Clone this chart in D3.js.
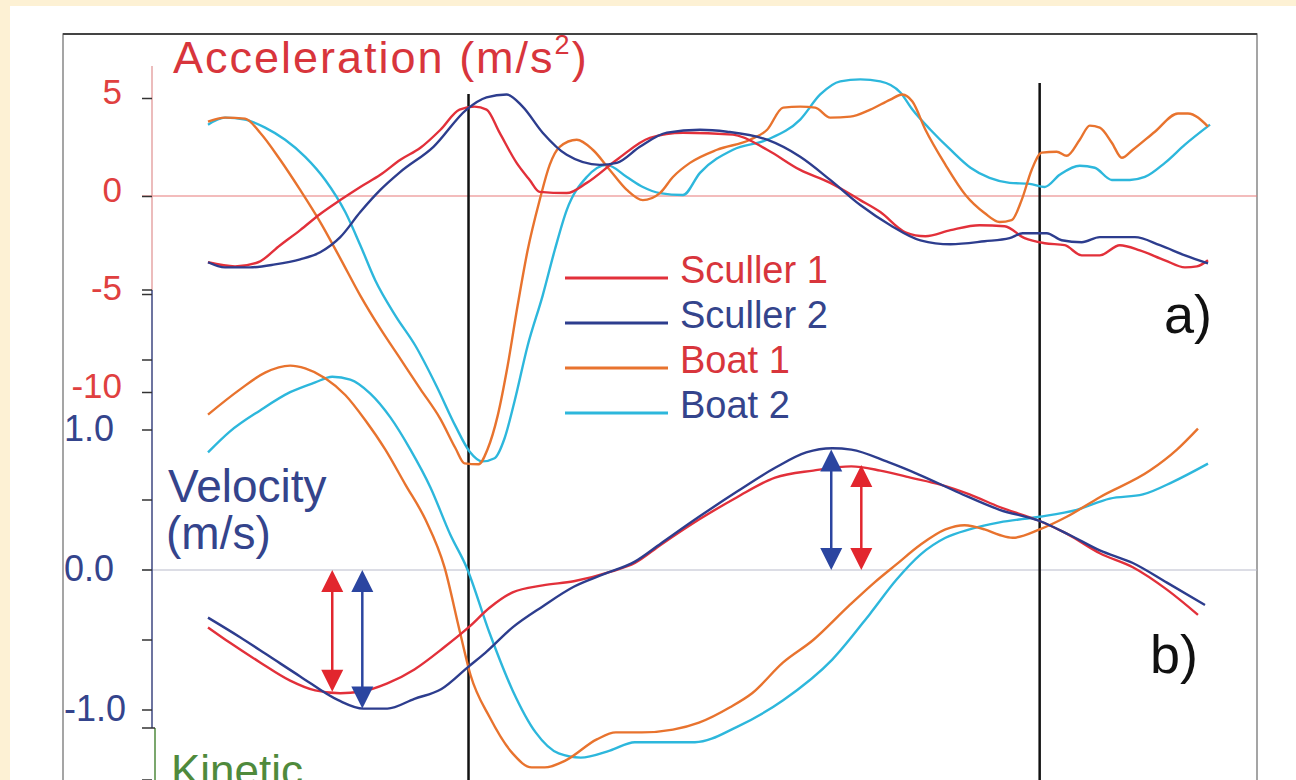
<!DOCTYPE html>
<html lang="en">
<head>
    <meta charset="UTF-8">
    <title>Sculler and boat acceleration / velocity</title>
    <script src="https://d3js.org/d3.v7.min.js"></script>
    <style>
        body { margin: 0; background: #fdf1d4; }
        text { font-family: "Liberation Sans", Arial, Helvetica, sans-serif; }
    </style>
</head>
<body>
    <script>
        const width = 1296;
        const height = 780;

        // time axis: % of the stroke cycle shown, 0..100
        // acceleration in m/s^2 : [t, a]
        const sculler1Acc = [[0,-3.38],[2.7,-3.59],[5,-3.38],[7.2,-2.51],[9.2,-1.74],[11.2,-0.92],[13.2,-0.21],[15.2,0.46],[17.2,1.08],[19.2,1.85],[21.2,2.46],[23.2,3.38],[25.1,4.41],[26.6,4.56],[27.8,4.41],[29.1,3.23],[30.8,1.69],[32.1,0.82],[33.1,0.21],[35.8,0.15],[37.8,0.67],[40.8,1.85],[44.1,2.97],[47.4,3.23],[52.4,3.13],[55.8,2.36],[59.1,1.33],[62.1,0.67],[65.1,-0.21],[67.1,-0.82],[69.6,-1.85],[71.6,-2.05],[74.1,-1.74],[77,-1.49],[79.5,-1.54],[81.5,-2.15],[83.5,-2.41],[85.5,-2.51],[87.2,-3.03],[89,-3.03],[91,-2.51],[93,-2.77],[95.5,-3.28],[97.5,-3.64],[98.7,-3.59],[99.8,-3.28]];
        const sculler2Acc = [[0,-3.38],[1.7,-3.64],[4.2,-3.64],[6.7,-3.49],[9.2,-3.23],[11.2,-2.87],[13.2,-2.1],[15.2,-0.82],[17.2,0.31],[19.2,1.23],[22.5,2.51],[25.8,4.41],[27.8,5.03],[29.8,5.18],[31.4,4.56],[33.4,3.23],[35.8,2.1],[39.1,1.59],[40.8,1.69],[43.1,2.51],[45.8,3.23],[49.1,3.38],[51.8,3.28],[55.8,2.87],[59.1,2.0],[62.1,0.82],[65.1,-0.46],[68.1,-1.49],[71.1,-2.26],[74.1,-2.46],[77.5,-2.31],[80,-2.15],[81.3,-1.9],[83.7,-1.9],[85.2,-2.26],[87.2,-2.36],[89,-2.1],[92.5,-2.1],[95,-2.51],[97.5,-3.03],[99.8,-3.44]];
        const boat1Acc = [[0,3.79],[1.7,4.0],[3.7,3.95],[5.2,3.23],[7.2,1.85],[9.2,0.31],[11.2,-1.33],[13.2,-3.18],[15.2,-5.08],[17.2,-6.77],[19.2,-8.31],[21.2,-9.85],[23.2,-11.38],[24.7,-12.87],[25.6,-13.64],[27,-13.69],[27.9,-12.92],[28.9,-11.23],[29.9,-8.67],[30.9,-5.59],[31.9,-2.77],[33.1,-0.21],[34.1,1.59],[35.1,2.51],[36.8,2.87],[38.4,2.36],[40.1,1.33],[41.8,0.31],[43.4,-0.21],[45.1,0.15],[46.4,0.97],[48.1,1.69],[50.8,2.36],[54.1,2.87],[55.8,3.38],[57.4,4.51],[59.1,4.56],[60.6,4.51],[62.1,4.0],[64.1,4.05],[66.1,4.41],[68.1,4.92],[69.3,5.18],[70.3,4.82],[71.6,3.38],[73.6,1.59],[75.6,0.05],[77.5,-0.87],[79,-1.33],[80.2,-1.23],[81.2,-0.21],[82.2,1.33],[83.2,2.21],[84.7,2.26],[85.7,2.05],[87,2.87],[88,3.59],[89,3.49],[90.2,2.72],[91.2,1.95],[92.3,2.36],[94.5,3.28],[96.8,4.21],[97.8,4.21],[99.8,3.54]];
        const boat2Acc = [[0,3.64],[1.7,4.0],[3.7,3.9],[5.7,3.49],[7.7,2.87],[9.7,2.0],[11.7,0.82],[13.7,-0.82],[15.2,-2.51],[16.7,-4.31],[18.7,-6.1],[20.7,-7.64],[22.8,-9.69],[24.7,-11.74],[26.1,-13.03],[27.4,-13.54],[28.6,-13.38],[29.6,-12.36],[30.6,-10.46],[31.9,-7.64],[33.4,-5.08],[34.6,-2.77],[35.8,-0.72],[37.8,0.97],[39.8,1.59],[41.8,0.97],[43.4,0.46],[45.1,0.15],[47.4,0.05],[49.1,1.18],[52.4,2.36],[55.8,2.87],[59.1,3.9],[61.1,5.18],[63.1,5.85],[65.1,5.95],[67.1,5.85],[69.1,5.28],[70.3,4.41],[72.1,3.38],[74.1,2.36],[76.1,1.44],[78,0.92],[80,0.67],[82,0.62],[83.5,0.46],[85,1.08],[87,1.54],[88.5,1.44],[90.2,0.82],[92,0.82],[93.5,0.97],[95.5,1.69],[97.5,2.62],[100,3.64]];

        // velocity in m/s : [t, v]
        const sculler1Vel = [[0,-0.41],[2.2,-0.52],[5.2,-0.66],[8.2,-0.79],[10.7,-0.86],[13.2,-0.88],[15.2,-0.87],[17.9,-0.81],[20.6,-0.71],[23.6,-0.55],[26,-0.41],[28.1,-0.27],[30.4,-0.16],[33.4,-0.11],[36.5,-0.08],[40.3,-0.01],[42.6,0.05],[45.2,0.18],[49,0.36],[52.8,0.52],[56.6,0.66],[60.4,0.71],[64.2,0.74],[67.1,0.71],[70.1,0.66],[73.1,0.61],[76,0.54],[79,0.45],[83,0.35],[85.7,0.26],[89,0.12],[92.3,0.02],[95.7,-0.14],[98.8,-0.32]];
        const sculler2Vel = [[0,-0.34],[3.2,-0.48],[6.2,-0.62],[9.2,-0.76],[13,-0.93],[15.5,-0.99],[17.9,-0.99],[20.6,-0.92],[23.3,-0.85],[26,-0.69],[27.7,-0.59],[30.4,-0.41],[33.4,-0.26],[36.5,-0.12],[39.5,-0.03],[42.6,0.06],[45.2,0.19],[49,0.38],[52.8,0.56],[56.6,0.73],[59.7,0.84],[62.3,0.87],[64.2,0.86],[67.9,0.77],[71,0.68],[75,0.55],[79,0.43],[83,0.35],[86,0.25],[89,0.14],[92.3,0.05],[95.7,-0.09],[99.5,-0.25]];
        const boat1Vel = [[0,1.11],[3.2,1.29],[5.7,1.41],[8.2,1.46],[9.7,1.44],[11.7,1.37],[13.7,1.25],[15.7,1.07],[17.7,0.86],[19.7,0.61],[21.7,0.36],[23.6,0.02],[25.1,-0.43],[26.2,-0.75],[28.1,-1.05],[30.4,-1.31],[32.3,-1.41],[33.6,-1.41],[35.7,-1.36],[38.8,-1.21],[40.7,-1.16],[43.3,-1.16],[46.4,-1.14],[49,-1.09],[52.1,-0.98],[54.3,-0.88],[57.4,-0.66],[60.4,-0.5],[63.9,-0.26],[66.5,-0.09],[68.7,0.04],[71.1,0.18],[73.6,0.29],[75.5,0.32],[77.5,0.29],[79,0.25],[80.3,0.23],[83,0.29],[85.7,0.38],[89,0.52],[94,0.71],[96.7,0.86],[98.8,1.01]];
        const boat2Vel = [[0,0.84],[2.2,0.99],[5.2,1.14],[8.2,1.27],[10.7,1.34],[12.4,1.38],[14.2,1.36],[16.2,1.26],[18.2,1.09],[20.2,0.86],[22.2,0.59],[24.2,0.25],[25.8,0.02],[28.1,-0.45],[30.4,-0.86],[32.7,-1.16],[35,-1.31],[37.2,-1.34],[40.1,-1.29],[42.6,-1.23],[48.6,-1.23],[52.8,-1.12],[57.4,-0.93],[62.3,-0.64],[66.1,-0.31],[68.7,-0.07],[71.1,0.11],[73.6,0.23],[76,0.29],[79,0.34],[83,0.38],[86.7,0.43],[90,0.51],[93.3,0.54],[96.3,0.63],[99.8,0.76]];

        const seriesNames = ["Sculler 1", "Sculler 2", "Boat 1", "Boat 2"];
        const seriesColors = ["#e2303a", "#2d3d8e", "#e8732e", "#2db7dc"];
        const legendTextColors = ["#d8353c", "#34448c", "#d8353c", "#34448c"];

        const accTicks = [5, 0, -5, -10];
        const velLabelTicks = [1.0, 0.0, -1.0];
        const velMinorTicks = [2.0, 1.5, 0.5, -0.5, -1.5];

        // phase markers (catch / finish) and the sculler speed-range arrows
        const phaseLines = [26, 83];
        const arrows = [
            {t: 12.4, from: 0, to: -0.87, color: "#e2262e"},
            {t: 15.4, from: 0, to: -0.99, color: "#2b45a0"},
            {t: 62.2, from: 0, to: 0.86, color: "#2b45a0"},
            {t: 65.2, from: 0, to: 0.75, color: "#e2262e"}
        ];

        const x = d3.scaleLinear().domain([0, 100]).range([208, 1210]);
        const yAcc = d3.scaleLinear().domain([-10, 5]).range([392, 98]);
        const yVel = d3.scaleLinear().domain([-1, 1]).range([710, 430]);

        const svg = d3.select("body").append("svg")
            .attr("width", width)
            .attr("height", height);

        // page / panel background
        svg.append("rect").attr("width", width).attr("height", height).attr("fill", "#fdf1d4");
        svg.append("rect").attr("x", 10).attr("y", 6)
            .attr("width", width - 10).attr("height", height - 6).attr("fill", "#fff");

        // frame
        svg.append("path")
            .attr("d", "M63,780V34H1257V780")
            .attr("fill", "none").attr("stroke", "#888").attr("stroke-width", 1.5);
        svg.append("line").attr("x1", 63).attr("x2", 1257).attr("y1", 34).attr("y2", 34)
            .attr("stroke", "#444").attr("stroke-width", 2);

        // zero lines
        svg.append("line")
            .attr("x1", 142).attr("x2", 1257)
            .attr("y1", yAcc(0)).attr("y2", yAcc(0))
            .attr("stroke", "#e77a7a").attr("stroke-width", 1.2);
        svg.append("line")
            .attr("x1", 142).attr("x2", 1257)
            .attr("y1", yVel(0)).attr("y2", yVel(0))
            .attr("stroke", "#b9bccb").attr("stroke-width", 1.2);

        // axis spine: acceleration part, velocity part, kinetic part
        const axisX = 152;
        svg.append("line").attr("x1", axisX).attr("x2", axisX).attr("y1", 66).attr("y2", yVel(2))
            .attr("stroke", "#e6a6a6").attr("stroke-width", 1.5);
        svg.append("line").attr("x1", axisX).attr("x2", axisX).attr("y1", yVel(2)).attr("y2", 728)
            .attr("stroke", "#3c4680").attr("stroke-width", 1.5);
        svg.append("line").attr("x1", 155).attr("x2", 155).attr("y1", 728).attr("y2", 780)
            .attr("stroke", "#4f8a3c").attr("stroke-width", 1.5);
        svg.append("line").attr("x1", 142).attr("x2", 155).attr("y1", 728).attr("y2", 728)
            .attr("stroke", "#333").attr("stroke-width", 1.5);

        // acceleration ticks (plain hyphen minus, as in the figure)
        const accAxis = svg.append("g")
            .attr("transform", `translate(${axisX},0)`)
            .call(d3.axisLeft(yAcc).tickValues(accTicks).tickSize(10).tickPadding(20).tickFormat(d => String(d)));
        accAxis.select(".domain").remove();
        accAxis.selectAll("line").attr("stroke", "#333").attr("stroke-width", 1.5);
        accAxis.selectAll("text")
            .attr("fill", "#e0403f")
            .attr("font-size", 35)
            .attr("dy", "0.15em")
            .style("font-family", "'Liberation Sans', Arial, sans-serif");

        // velocity ticks
        svg.append("g").selectAll("line")
            .data(velLabelTicks.concat(velMinorTicks))
            .join("line")
            .attr("x1", 142).attr("x2", axisX)
            .attr("y1", d => yVel(d)).attr("y2", d => yVel(d))
            .attr("stroke", "#333").attr("stroke-width", 1.5);
        svg.append("g").selectAll("text")
            .data(velLabelTicks)
            .join("text")
            .attr("x", 64)
            .attr("y", d => yVel(d) + 11)
            .attr("fill", "#34448c")
            .attr("font-size", 36)
            .text(d => d.toFixed(1).replace("\u2212", "-"));

        // axis titles
        const title = svg.append("text")
            .attr("x", 173).attr("y", 73)
            .attr("fill", "#d8353c")
            .attr("font-size", 45)
            .attr("letter-spacing", 2);
        title.append("tspan").text("Acceleration (m/s");
        title.append("tspan").attr("font-size", 27).attr("dy", -19).text("2");
        title.append("tspan").attr("dy", 19).text(")");

        svg.append("text").attr("x", 168).attr("y", 502)
            .attr("fill", "#34448c").attr("font-size", 46).text("Velocity");
        svg.append("text").attr("x", 166).attr("y", 549)
            .attr("fill", "#34448c").attr("font-size", 46).text("(m/s)");
        svg.append("text").attr("x", 171).attr("y", 786)
            .attr("fill", "#4f8a3c").attr("font-size", 44).text("Kinetic");

        // phase lines
        svg.append("g").selectAll("line")
            .data(phaseLines)
            .join("line")
            .attr("x1", d => x(d)).attr("x2", d => x(d))
            .attr("y1", (d, i) => i === 0 ? 94 : 83)
            .attr("y2", height)
            .attr("stroke", "#111").attr("stroke-width", 2.5);

        // curves
        const accLine = d3.line()
            .x(d => x(d[0]))
            .y(d => yAcc(d[1]))
            .curve(d3.curveMonotoneX);
        const velLine = d3.line()
            .x(d => x(d[0]))
            .y(d => yVel(d[1]))
            .curve(d3.curveMonotoneX);

        const accSeries = [sculler1Acc, sculler2Acc, boat1Acc, boat2Acc];
        const velSeries = [sculler1Vel, sculler2Vel, boat1Vel, boat2Vel];
        const drawOrder = [3, 2, 0, 1];

        const curves = svg.append("g").attr("fill", "none").attr("stroke-width", 2.4);
        drawOrder.forEach(i => {
            curves.append("path").attr("d", accLine(accSeries[i])).attr("stroke", seriesColors[i]);
            curves.append("path").attr("d", velLine(velSeries[i])).attr("stroke", seriesColors[i]);
        });

        // double-headed arrows
        const head = 11, headLen = 22;
        const arrowG = svg.append("g");
        arrows.forEach(a => {
            const ax = x(a.t);
            const y0 = yVel(a.from), y1 = yVel(a.to);
            const dir = y1 > y0 ? 1 : -1;
            arrowG.append("line")
                .attr("x1", ax).attr("x2", ax)
                .attr("y1", y0 + dir * headLen * 0.8).attr("y2", y1 - dir * headLen * 0.8)
                .attr("stroke", a.color).attr("stroke-width", 2.5);
            arrowG.append("path")
                .attr("d", `M${ax},${y0}L${ax - head},${y0 + dir * headLen}L${ax + head},${y0 + dir * headLen}Z`)
                .attr("fill", a.color);
            arrowG.append("path")
                .attr("d", `M${ax},${y1}L${ax - head},${y1 - dir * headLen}L${ax + head},${y1 - dir * headLen}Z`)
                .attr("fill", a.color);
        });

        // legend
        const legend = svg.append("g").selectAll("g")
            .data(seriesNames)
            .join("g")
            .attr("transform", (d, i) => `translate(565,${283 + i * 45})`);
        legend.append("line")
            .attr("x1", 0).attr("x2", 103)
            .attr("y1", -5).attr("y2", -5)
            .attr("stroke", (d, i) => seriesColors[i])
            .attr("stroke-width", 3);
        legend.append("text")
            .attr("x", 115)
            .attr("fill", (d, i) => legendTextColors[i])
            .attr("font-size", 38)
            .text(d => d);

        // panel labels
        svg.append("text").attr("x", 1164).attr("y", 333)
            .attr("font-size", 54).attr("fill", "#111").text("a)");
        svg.append("text").attr("x", 1150).attr("y", 673)
            .attr("font-size", 54).attr("fill", "#111").text("b)");
    </script>
</body>
</html>
